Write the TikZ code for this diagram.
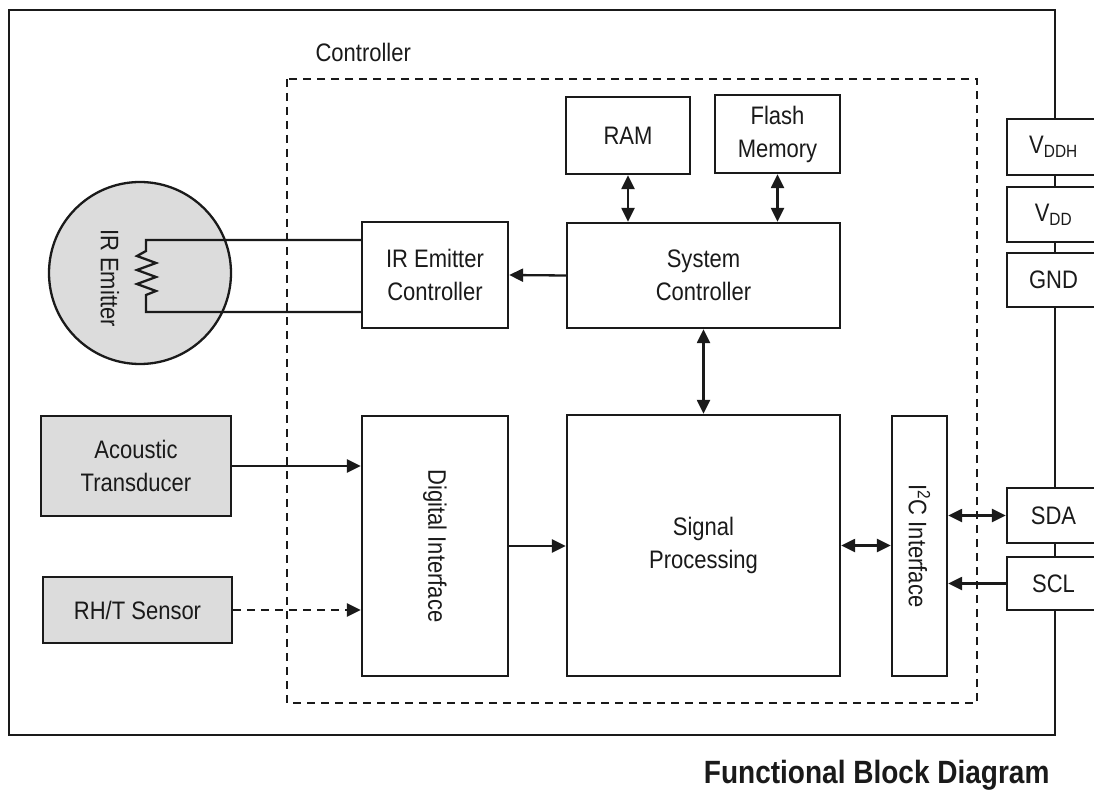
\documentclass[tikz,border=0pt]{standalone}
\usepackage{fontspec}
\setmainfont{Liberation Sans}[FakeStretch=0.87]
\usetikzlibrary{arrows.meta}
\definecolor{inkc}{HTML}{1A1A1A}
\definecolor{blkgray}{HTML}{DCDCDC}
\tikzset{
  blk/.style 2 args={draw=inkc, line width=2.3pt, fill=white, text=inkc,
    minimum width=#1pt, minimum height=#2pt, inner sep=0pt, align=center,
    font=\fontsize{25.3}{33}\selectfont},
  gblk/.style 2 args={blk={#1}{#2}, fill=blkgray},
  pin/.style 2 args={blk={#1}{#2}},
  wire/.style={draw=inkc, line width=2.3pt},
  arr/.style={wire, -{Triangle[length=14pt,width=13pt]}},
  darr/.style={wire, {Triangle[length=14pt,width=13pt]}-{Triangle[length=14pt,width=13pt]}},
  dsh/.style={dash pattern=on 8pt off 6pt}
}
\begin{document}
\begin{tikzpicture}[x=1pt,y=-1pt]
\useasboundingbox (0,0) rectangle (1094,791);
\clip (0,0) rectangle (1094,791);
% chip outline and controller region
\draw[wire] (9,10) rectangle (1055,735);
\draw[wire,dsh] (287,79) rectangle (977,703);
\node[anchor=base west, text=inkc, font=\fontsize{25.3}{33}\selectfont] (ctrllbl) at (312,62) {Controller};
% IR emitter
\node[circle, draw=inkc, line width=2.3pt, fill=blkgray, minimum size=182pt, inner sep=0pt] (emit) at (140,273) {};
\node[rotate=-90, text=inkc, font=\fontsize{25.3}{33}\selectfont] (emitlbl) at (110,278) {IR Emitter};
% blocks
\node[blk={124}{77}] (ram) at (628,135.5) {RAM};
\node[blk={125}{78}] (flash) at (777.5,134) {Flash\\Memory};
\node[blk={273}{105}] (sysc) at (703.5,275.5) {System\\Controller};
\node[blk={146}{106}] (irc) at (435,275) {IR Emitter\\Controller};
\node[blk={146}{260}] (digi) at (435,546) {};
\node[rotate=-90, text=inkc, font=\fontsize{25.3}{33}\selectfont] (digilbl) at (digi) {Digital Interface};
\node[blk={273}{261}] (sigp) at (703.5,545.5) {Signal\\Processing};
\node[blk={55}{260}] (i2c) at (919.5,546) {};
\node[rotate=-90, text=inkc, font=\fontsize{25.3}{33}\selectfont] (i2clbl) at (i2c) {I\textsuperscript{2}C Interface};
\node[gblk={190}{100}] (acou) at (136,466) {Acoustic\\Transducer};
\node[gblk={189}{66}] (rht) at (137.5,610) {RH/T Sensor};
% pins
\node[pin={93}{56}] (vddh) at (1053.5,147) {V\textsubscript{DDH}};
\node[pin={93}{55}] (vdd) at (1053.5,214.5) {V\textsubscript{DD}};
\node[pin={93}{54}] (gnd) at (1053.5,280) {GND};
\node[pin={93}{55}] (sda) at (1053.5,515.5) {SDA};
\node[pin={93}{53}] (scl) at (1053.5,583.5) {SCL};
% resistor
\coordinate (rtop) at (146,240);
\coordinate (rbot) at (146,312);
\draw[wire, line join=miter] (irc.west |- rtop) -- (rtop) -- (146,251) -- (137,256) -- (156,263)
  -- (137,270) -- (156,277) -- (137,284) -- (156,291) -- (146,295) -- (rbot) -- (rbot -| irc.west);
% connections
\draw[arr] (sysc.west) -- (irc.east);
\draw[darr] (ram.south) -- (ram.south |- sysc.north);
\draw[darr] (flash.south) -- (flash.south |- sysc.north);
\draw[darr] (sysc.south) -- (sigp.north);
\draw[arr] (acou.east) -- (acou.east -| digi.west);
\draw[arr,dsh] (rht.east) -- (rht.east -| digi.west);
\draw[arr] (digi.east) -- (digi.east -| sigp.west);
\draw[darr] (sigp.east) -- (sigp.east -| i2c.west);
\draw[darr] (i2c.east |- sda.west) -- (sda.west);
\draw[arr] (scl.west) -- (scl.west -| i2c.east);
% caption
\node[anchor=base east, text=inkc, font=\fontsize{32.2}{38}\bfseries\selectfont] (title) at (1053,783) {Functional Block Diagram};
\end{tikzpicture}
\end{document}
